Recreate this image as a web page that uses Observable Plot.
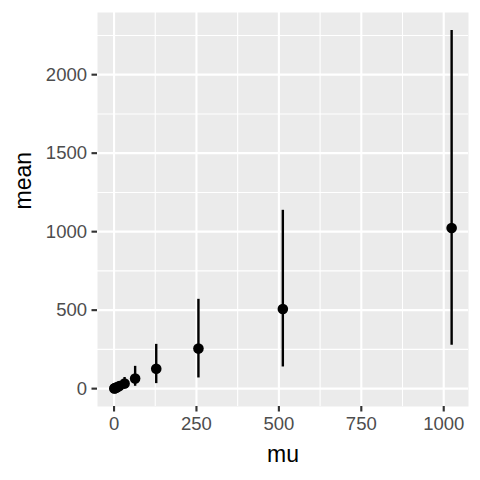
<!DOCTYPE html>
<html><head><meta charset="utf-8">
<script src="https://cdn.jsdelivr.net/npm/d3@7"></script>
<script src="https://cdn.jsdelivr.net/npm/@observablehq/plot@0.6"></script>
<style>body{margin:0;background:#fff}</style>
</head><body><div id="chart"></div>
<script>
const mu = [1, 2, 4, 8, 16, 32, 64, 128, 256, 512, 1024];
const meanVals = [1, 2, 4, 8, 16, 32, 64, 127, 255, 507, 1023];
const lower = [0.3, 0.5, 1.1, 2.1, 4.3, 8.5, 15, 32, 68, 138, 276];
const upper = [2.2, 4.5, 8.9, 17.8, 35.5, 71, 142, 282, 569, 1136, 2282];
const xTicks = [0, 250, 500, 750, 1000];
const xMinor = [125, 375, 625, 875];
const yTicks = [0, 500, 1000, 1500, 2000];
const yMinor = [250, 750, 1250, 1750, 2250];

const data = mu.map((m, i) => ({mu: m, mean: meanVals[i], lo: lower[i], hi: upper[i]}));
const expand = (lo, hi) => { const r = hi - lo; return [lo - 0.05 * r, hi + 0.05 * r]; };
const xDom = expand(d3.min(mu), d3.max(mu));
const yDom = expand(d3.min(lower), d3.max(upper));
const fmt = d3.format("d");

const chart = Plot.plot({
  width: 480, height: 480,
  marginLeft: 97, marginRight: 12, marginTop: 12, marginBottom: 74,
  style: {fontFamily: "'Liberation Sans', Arial, sans-serif", background: "white"},
  x: {domain: xDom},
  y: {domain: yDom},
  marks: [
    Plot.frame({fill: "#EBEBEB", stroke: null}),
    Plot.ruleX(xMinor, {stroke: "white", strokeWidth: 1.07}),
    Plot.ruleY(yMinor, {stroke: "white", strokeWidth: 1.07}),
    Plot.ruleX(xTicks, {stroke: "white", strokeWidth: 2.13}),
    Plot.ruleY(yTicks, {stroke: "white", strokeWidth: 2.13}),
    Plot.ruleX(data, {x: "mu", y1: "lo", y2: "hi", stroke: "black", strokeWidth: 2.4}),
    Plot.dot(data, {x: "mu", y: "mean", r: 5.3, fill: "black", stroke: null}),
    Plot.axisX({ticks: xTicks, tickFormat: fmt, tickSize: 5.5, tickPadding: 5, fontSize: 18.5, fill: "#4D4D4D", stroke: "#333333", strokeWidth: 2.13, label: null}),
    Plot.axisY({ticks: yTicks, tickFormat: fmt, tickSize: 5.5, tickPadding: 5, fontSize: 18.5, fill: "#4D4D4D", stroke: "#333333", strokeWidth: 2.13, label: null}),
    Plot.text(["mu"], {text: d => d, frameAnchor: "bottom", lineAnchor: "bottom", dy: 55.5, fontSize: 23, fill: "black"}),
    Plot.text(["mean"], {text: d => d, frameAnchor: "left", lineAnchor: "top", rotate: -90, dx: -83.3, fontSize: 23, fill: "black"})
  ]
});
document.getElementById("chart").appendChild(chart);
</script>
</body></html>
